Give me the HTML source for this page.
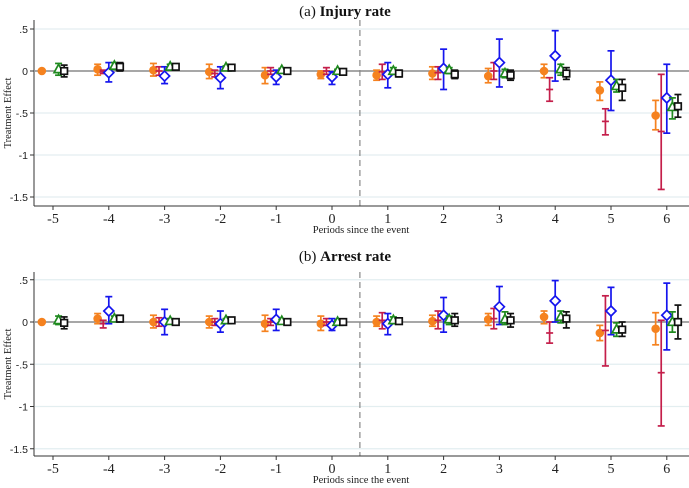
<!DOCTYPE html>
<html><head><meta charset="utf-8"><style>
html,body{margin:0;padding:0;background:#fff;}
svg{display:block;}
</style></head><body>
<svg id="chart" width="689" height="488" viewBox="0 0 689 488" xmlns="http://www.w3.org/2000/svg"></svg>
<script>
const periods = [-5,-4,-3,-2,-1,0,1,2,3,4,5,6];
const yTicks = [0.5,0,-0.5,-1,-1.5];
const yTickLabels = [".5","0","-.5","-1","-1.5"];
const seriesNames = ["orange","crimson","blue","green","black"];
const seriesOffsets = [-0.2,-0.1,0,0.1,0.2];
// Panel A: injury rate [est, lo, hi]
const injOrange = [[0,null,null],[0.02,-0.05,0.08],[0.01,-0.06,0.09],[-0.01,-0.09,0.08],[-0.05,-0.15,0.04],[-0.04,-0.09,0],[-0.05,-0.11,0.01],[-0.03,-0.1,0.05],[-0.06,-0.14,0.03],[0,-0.08,0.08],[-0.23,-0.35,-0.13],[-0.53,-0.7,-0.35]];
const injCrimson = [null,[-0.01,-0.03,0.01],[0,-0.05,0.05],[-0.03,-0.07,0.01],[0,-0.04,0.04],[0,-0.04,0.04],[-0.01,-0.1,0.08],[-0.02,-0.1,0.05],[0,-0.1,0.1],[-0.22,-0.36,-0.08],[-0.6,-0.76,-0.45],[-0.72,-1.41,-0.04]];
const injBlue = [null,[-0.02,-0.13,0.1],[-0.06,-0.15,0.05],[-0.08,-0.21,0.05],[-0.07,-0.16,0.01],[-0.07,-0.16,-0.01],[-0.04,-0.2,0.1],[0.03,-0.22,0.26],[0.1,-0.19,0.38],[0.18,-0.12,0.48],[-0.11,-0.47,0.24],[-0.32,-0.74,0.08]];
const injGreen = [[0.02,-0.05,0.09],[0.06,0.02,0.1],[0.05,0.02,0.08],[0.04,0.02,0.06],[0.01,-0.01,0.03],[0,-0.02,0.02],[0,-0.04,0.04],[0.01,-0.03,0.04],[-0.03,-0.08,0.02],[0.02,-0.05,0.08],[-0.18,-0.25,-0.1],[-0.43,-0.57,-0.32]];
const injBlack = [[0,-0.07,0.07],[0.05,0,0.1],[0.05,0.03,0.07],[0.04,0.02,0.05],[0,-0.01,0.01],[-0.01,-0.03,0.01],[-0.03,-0.07,0.01],[-0.04,-0.09,0.01],[-0.05,-0.11,0.01],[-0.03,-0.1,0.04],[-0.2,-0.35,-0.1],[-0.42,-0.55,-0.28]];
// Panel B: arrest rate
const arrOrange = [[0,null,null],[0.04,-0.02,0.1],[0,-0.07,0.08],[0,-0.07,0.07],[-0.02,-0.11,0.08],[-0.02,-0.1,0.07],[0,-0.05,0.07],[0.01,-0.05,0.08],[0.03,-0.04,0.1],[0.06,-0.02,0.13],[-0.13,-0.22,-0.04],[-0.08,-0.27,0.11]];
const arrCrimson = [null,[-0.02,-0.07,0.02],[0,-0.05,0.05],[0,-0.04,0.04],[0,-0.04,0.04],[0,-0.04,0.04],[0.02,-0.08,0.11],[0.02,-0.08,0.13],[0.04,-0.08,0.16],[-0.13,-0.25,0],[-0.1,-0.52,0.31],[-0.6,-1.23,0.02]];
const arrBlue = [null,[0.13,-0.02,0.3],[0,-0.15,0.15],[-0.02,-0.12,0.13],[0.03,-0.1,0.15],[-0.04,-0.1,0.04],[-0.02,-0.15,0.1],[0.08,-0.12,0.29],[0.18,-0.03,0.42],[0.25,0,0.49],[0.13,-0.15,0.41],[0.08,-0.33,0.46]];
const arrGreen = [[0.02,-0.03,0.07],[0.04,0.01,0.07],[0.01,-0.02,0.04],[0.02,0,0.04],[0.01,-0.01,0.03],[0,-0.02,0.02],[0.02,-0.02,0.06],[0.03,-0.03,0.07],[0.03,-0.03,0.12],[0.06,-0.01,0.13],[-0.09,-0.17,-0.01],[0,-0.12,0.12]];
const arrBlack = [[-0.01,-0.08,0.06],[0.04,0,0.08],[0,-0.02,0.02],[0.02,0,0.04],[0,-0.01,0.01],[0,-0.02,0.02],[0.01,-0.02,0.04],[0.02,-0.05,0.1],[0.02,-0.06,0.1],[0.04,-0.07,0.12],[-0.09,-0.17,0],[0,-0.2,0.2]];

const NS="http://www.w3.org/2000/svg";
const svg=document.getElementById('chart');
const colors={orange:"#f5821f",crimson:"#c41e4a",blue:"#1515ee",green:"#1f8a1f",black:"#111"};
function mk(tag,attrs,parent){const e=document.createElementNS(NS,tag);for(const k in attrs)e.setAttribute(k,attrs[k]);(parent||svg).appendChild(e);return e;}
const xScale=p=>332+p*55.8;

function drawPanel(cfg){
  const g=mk('g',{});
  
  
  const y=v=>cfg.y0-v*cfg.unit;
  const t=mk('text',{x:345,y:cfg.titleY,'text-anchor':'middle','font-family':'Liberation Serif, serif','font-size':15,fill:'#111'},g);
  
  
  t.innerHTML=cfg.title;
  yTicks.forEach((v,i)=>{
    if(v!==0){const gl=mk('line',{x1:35,x2:689,y1:y(v),y2:y(v),stroke:'#e3eef0','stroke-width':1.2},g);
      
      }
    const tk=mk('line',{x1:30,x2:34,y1:y(v),y2:y(v),stroke:'#333'},g);
    
    
    const lb=mk('text',{x:28,y:y(v)+4,'text-anchor':'end','font-family':'Liberation Sans, sans-serif','font-size':10.5,fill:'#222'},g);
    
    
    lb.textContent=yTickLabels[i];
  });
  const zl=mk('line',{x1:35,x2:689,y1:y(0),y2:y(0),stroke:'#8a8a8a','stroke-width':1.6},g);
  
  
  const dl=mk('line',{x1:xScale(0.5),x2:xScale(0.5),y1:cfg.axTop,y2:cfg.axBottom,stroke:'#888','stroke-width':1.2,'stroke-dasharray':'6,4'},g);
  
  
  const ya=mk('line',{x1:34,x2:34,y1:cfg.axTop,y2:cfg.axBottom,stroke:'#333'},g);
  
  
  const xa=mk('line',{x1:34,x2:689,y1:cfg.axBottom,y2:cfg.axBottom,stroke:'#333'},g);
  
  
  periods.forEach(p=>{
    const tk=mk('line',{x1:xScale(p),x2:xScale(p),y1:cfg.axBottom,y2:cfg.axBottom+4,stroke:'#333'},g);
    
    
    const lb=mk('text',{x:xScale(p),y:cfg.axBottom+17,'text-anchor':'middle','font-family':'Liberation Serif, serif','font-size':14,fill:'#222'},g);
    
    
    lb.textContent=p;
  });
  const xt=mk('text',{x:361,y:cfg.axBottom+27,'text-anchor':'middle','font-family':'Liberation Serif, serif','font-size':10.5,fill:'#222'},g);
  
  
  xt.textContent='Periods since the event';
  const yt=mk('text',{x:0,y:0,transform:`translate(11,${(cfg.axTop+cfg.axBottom)/2}) rotate(-90)`,'text-anchor':'middle','font-family':'Liberation Serif, serif','font-size':10.5,fill:'#222'},g);
  
  
  yt.textContent='Treatment Effect';
  cfg.series.forEach((data,si)=>{
    const name=seriesNames[si],col=colors[name];
    data.forEach((d,i)=>{
      if(!d)return;
      const cx=xScale(periods[i]+seriesOffsets[si]),cy=y(d[0]);
      const sg=mk('g',{stroke:col,fill:'none','stroke-width':1.7},g);
      
      
      if(d[1]!==null){
        const y1=y(d[2]),y2=y(d[1]);
        mk('line',{x1:cx,x2:cx,y1:y1,y2:y2},sg);
        mk('line',{x1:cx-3.5,x2:cx+3.5,y1:y1,y2:y1},sg);
        mk('line',{x1:cx-3.5,x2:cx+3.5,y1:y2,y2:y2},sg);
      }
      if(name==='orange') mk('circle',{cx:cx,cy:cy,r:4.3,fill:col,stroke:'none'},sg);
      else if(name==='crimson') mk('line',{x1:cx-3.5,x2:cx+3.5,y1:cy,y2:cy},sg);
      else if(name==='blue') mk('polygon',{points:`${cx},${cy-5} ${cx+5},${cy} ${cx},${cy+5} ${cx-5},${cy}`,fill:'#fff'},sg);
      else if(name==='green') mk('polygon',{points:`${cx},${cy-5} ${cx+4.5},${cy+3.3} ${cx-4.5},${cy+3.3}`,fill:'#fff'},sg);
      else mk('rect',{x:cx-3.3,y:cy-3.3,width:6.6,height:6.6,fill:'#fff'},sg);
    });
  });
}
drawPanel({name:'injury-panel',title:'(a) <tspan font-weight="bold">Injury rate</tspan>',titleY:16,y0:71,unit:84,axTop:20,axBottom:206,
  series:[injOrange,injCrimson,injBlue,injGreen,injBlack]});
drawPanel({name:'arrest-panel',title:'(b) <tspan font-weight="bold">Arrest rate</tspan>',titleY:261,y0:322,unit:84.5,axTop:272,axBottom:456,
  series:[arrOrange,arrCrimson,arrBlue,arrGreen,arrBlack]});
</script>
</body></html>
